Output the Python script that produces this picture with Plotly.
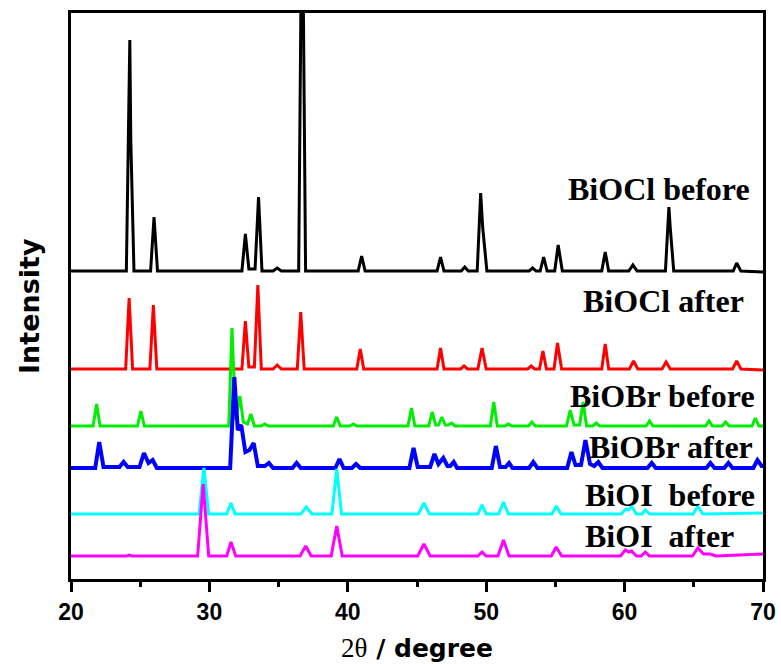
import plotly.graph_objects as go

# ---- data (2theta vertices, intensity in a.u., patterns stacked) ----
biocl_before_x = [20, 24.0, 24.25, 24.32, 24.55, 25.75, 26.0, 26.25, 32.35, 32.6, 32.85, 33.3, 33.55, 33.8,
                  34.6, 34.9, 35.2, 36.45, 36.7, 36.95, 40.75, 41.0, 41.25, 46.45, 46.7, 46.95, 48.2, 48.45, 48.7,
                  49.35, 49.6, 49.75, 50.05, 53.1, 53.35, 53.6, 53.9, 54.15, 54.4, 54.95, 55.2, 55.5,
                  58.35, 58.6, 58.85, 60.3, 60.6, 60.9, 62.95, 63.2, 63.3, 63.55, 67.85, 68.1, 68.4, 70]
biocl_before_y = [309, 309, 540, 440, 309, 309, 363, 309, 309, 346, 311, 311, 383, 309,
                  309, 312, 309, 309, 720, 309, 309, 324, 309, 309, 323, 309, 309, 313, 309,
                  309, 387, 352, 309, 309, 312, 309, 309, 323, 309, 309, 335, 309,
                  309, 328, 309, 309, 315, 309, 309, 373, 352, 309, 309, 317, 309, 308]

biocl_after_x = [20, 23.95, 24.2, 24.45, 25.7, 25.95, 26.2, 32.35, 32.6, 32.85, 33.25, 33.5, 33.75,
                 34.6, 34.9, 35.2, 36.35, 36.6, 36.85, 40.65, 40.9, 41.15, 46.45, 46.7, 46.95,
                 48.15, 48.4, 48.65, 49.4, 49.7, 50.0, 53.0, 53.25, 53.5, 53.85, 54.1, 54.35,
                 54.9, 55.15, 55.45, 58.35, 58.6, 58.85, 60.35, 60.65, 60.95, 62.7, 63.0, 63.3,
                 67.8, 68.1, 68.4, 70]
biocl_after_y = [211, 211, 282, 211, 211, 275, 211, 211, 259, 213, 213, 295, 211,
                 211, 215, 211, 211, 268, 211, 211, 231, 211, 211, 232, 211,
                 211, 214, 211, 211, 232, 211, 211, 214, 211, 211, 229, 211,
                 211, 237, 211, 211, 236, 211, 211, 219, 211, 211, 218, 211,
                 211, 219, 211, 210]

biobr_before_x = [20, 21.6, 21.85, 22.1, 24.8, 25.05, 25.3, 31.4, 31.63, 31.9, 32.2, 32.45, 32.75, 33.0, 33.25,
                  33.75, 34.0, 34.25, 38.95, 39.2, 39.45, 40.15, 40.4, 40.65, 44.35, 44.6, 44.85,
                  45.85, 46.1, 46.35, 46.55, 46.8, 47.05, 47.25, 47.5, 47.75, 50.3, 50.55, 50.8,
                  51.35, 51.6, 51.85, 53.05, 53.3, 53.55, 55.8, 56.07, 56.35, 56.75, 57.0, 57.25,
                  57.7, 57.95, 58.2, 61.55, 61.8, 62.05, 65.85, 66.1, 66.35, 67.05, 67.3, 67.55,
                  69.2, 69.45, 69.7, 70]
biobr_before_y = [154, 154, 176, 154, 154, 169, 154, 154, 252, 160, 184, 158, 156, 166, 154,
                  154, 156, 154, 154, 163, 154, 154, 156, 154, 154, 172, 154,
                  154, 168, 155, 155, 163, 155, 155, 157, 154, 154, 178, 154,
                  154, 156, 154, 154, 158, 154, 154, 170, 155, 155, 178, 154,
                  154, 157, 154, 154, 159, 154, 154, 159, 154, 154, 158, 154,
                  154, 162, 154, 154]

biobr_after_x = [20, 21.75, 22.04, 22.35, 23.5, 23.8, 24.1, 24.95, 25.27, 25.6, 25.9, 26.2,
                 31.5, 31.8, 32.05, 32.3, 32.6, 32.9, 33.2, 33.5, 34.0, 34.3, 34.6, 36.0, 36.3, 36.6,
                 39.1, 39.4, 39.7, 40.3, 40.6, 40.9, 44.45, 44.75, 45.05, 45.95, 46.26, 46.55, 46.9, 47.2,
                 47.4, 47.65, 47.9, 50.4, 50.7, 51.0, 51.4, 51.65, 51.9, 53.1, 53.4, 53.7,
                 55.85, 56.16, 56.45, 56.85, 57.17, 57.5, 57.8, 58.1, 58.4, 61.65, 61.96, 62.25,
                 65.9, 66.2, 66.5, 67.2, 67.5, 67.8, 69.3, 69.6, 69.9, 70]
biobr_after_y = [112, 112, 138, 113, 113, 118, 113, 113, 127, 117, 120, 112,
                 112, 203, 150, 155, 128, 130, 137, 114, 114, 117, 112, 112, 117, 112,
                 112, 121, 112, 112, 116, 112, 112, 132, 113, 113, 126, 116, 122, 114,
                 114, 118, 112, 112, 134, 113, 113, 117, 112, 112, 118, 112,
                 112, 128, 115, 115, 140, 116, 114, 118, 112, 112, 117, 112,
                 112, 117, 112, 112, 117, 112, 112, 120, 114, 114]

bioi_before_x = [20, 29.25, 29.6, 29.95, 31.25, 31.56, 31.85, 36.6, 37.0, 37.4, 38.85, 39.2, 39.55,
                 45.1, 45.5, 45.9, 49.4, 49.7, 50.0, 50.9, 51.25, 51.6, 54.75, 55.06, 55.4,
                 59.75, 60.1, 60.3, 60.5, 60.85, 61.25, 61.5, 61.8, 64.95, 65.3, 65.65, 70]
bioi_before_y = [66, 66, 112, 66, 66, 77, 66, 66, 73, 66, 66, 111, 66,
                 66, 77, 66, 66, 75, 66, 66, 78, 66, 66, 74, 66,
                 66, 71, 70, 74, 66, 66, 70, 66, 66, 74, 66, 67]

bioi_after_x = [20, 24.0, 24.2, 24.4, 29.15, 29.55, 29.95, 31.25, 31.56, 31.9, 36.55, 36.96, 37.35,
                38.8, 39.2, 39.6, 45.05, 45.5, 45.95, 49.4, 49.7, 50.0, 50.85, 51.25, 51.65,
                54.7, 55.06, 55.45, 59.7, 60.05, 60.3, 60.5, 60.85, 61.2, 61.5, 61.8,
                64.9, 65.3, 65.7, 66.2, 66.6, 70]
bioi_after_y = [24, 24, 25, 24, 24, 96, 24, 24, 38, 24, 24, 34, 24,
                24, 54, 24, 24, 36, 24, 24, 28, 24, 24, 40, 24,
                24, 33, 24, 24, 30, 28, 29, 24, 24, 28, 24,
                24, 32, 26, 26, 24, 26]

series = [
    (biocl_before_x, biocl_before_y, "#000000", 3),
    (biocl_after_x, biocl_after_y, "#ff0000", 3),
    (biobr_before_x, biobr_before_y, "#00ee00", 3),
    (biobr_after_x, biobr_after_y, "#0000ff", 4),
    (bioi_before_x, bioi_before_y, "#00ffff", 3),
    (bioi_after_x, bioi_after_y, "#ff00ff", 3),
]

labels = ["BiOCl before", "BiOCl after", "BiOBr before", "BiOBr after",
          "BiOI\u00a0 before", "BiOI\u00a0 after"]
label_x = [55.76, 56.83, 55.90, 57.27, 56.98, 56.98]
label_y = [391, 279, 184, 133, 85, 44]

fig = go.Figure()
for xs, ys, col, lw in series:
    fig.add_trace(go.Scatter(x=xs, y=ys, mode="lines",
                             line=dict(color=col, width=lw), showlegend=False,
                             hoverinfo="skip"))

for t, lx, ly in zip(labels, label_x, label_y):
    fig.add_annotation(x=lx, y=ly, text=t, showarrow=False, xanchor="left", yanchor="middle",
                       font=dict(family="Liberation Serif", size=32, color="black", weight="bold"))

# y-axis title placed as rotated annotation (slightly below plot centre, as in the reference)
fig.add_annotation(xref="paper", yref="paper", x=-0.061, y=0.482, text="Intensity",
                   textangle=-90, showarrow=False, xanchor="center", yanchor="middle",
                   font=dict(family="DejaVu Sans", size=27, color="black", weight="bold"))

fig.update_layout(
    width=781, height=664,
    margin=dict(l=71, r=18, t=13, b=85),
    paper_bgcolor="white", plot_bgcolor="white",
    xaxis=dict(range=[20, 70], showgrid=False, zeroline=False, automargin=False,
               showline=True, linecolor="black", linewidth=3, mirror=True,
               ticks="outside", ticklen=10, tickwidth=3, tickcolor="black",
               dtick=10, tick0=20, ticklabelstandoff=0,
               minor=dict(ticks="outside", ticklen=5, tickwidth=2.5, tickcolor="black", dtick=5),
               tickfont=dict(family="Liberation Sans", size=23, color="black", weight="bold"),
               title=dict(text="<span style='font-family:Liberation Serif;font-weight:normal;font-size:27px'>2θ</span> / degree",
                          font=dict(family="DejaVu Sans", size=25, color="black", weight="bold"),
                          standoff=16)),
    yaxis=dict(range=[1, 567], showgrid=False, zeroline=False, automargin=False,
               showline=True, linecolor="black", linewidth=3, mirror=True,
               showticklabels=False, ticks=""),
)

fig.write_html("out.html", config={"displayModeBar": False},
               post_script="document.body.style.margin='0';document.body.style.padding='0';")
